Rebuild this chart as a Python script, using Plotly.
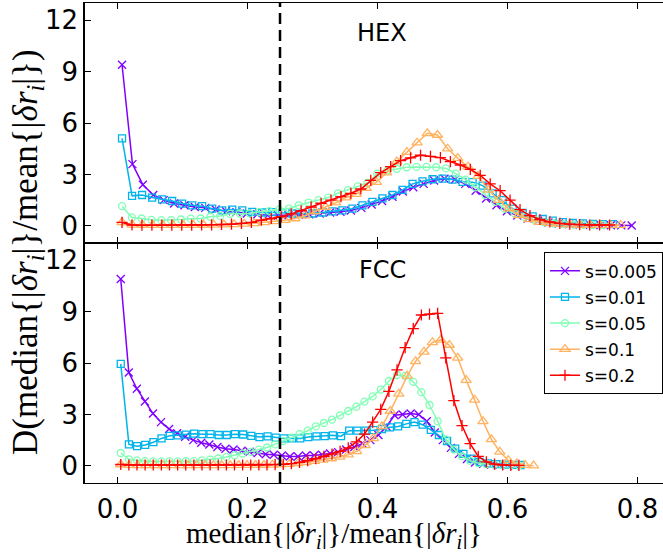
import numpy as np
import plotly.graph_objects as go

labels = ["s=0.005", "s=0.01", "s=0.05", "s=0.1", "s=0.2"]
colors = ["#8000ff", "#00b4eb", "#80ffb4", "#ffb360", "#ff0000"]
symbols = ["x-thin-open", "square-open", "circle-open", "triangle-up-open", "cross-thin-open"]
msizes = [8, 7, 7, 9, 8]

# bin-centre extents of each histogram (first, last)
hex_x_first = [0.007, 0.007, 0.007, 0.007, 0.007]
hex_x_last = [0.791, 0.762, 0.747, 0.774, 0.757]
fcc_x_first = [0.005, 0.005, 0.005, 0.005, 0.005]
fcc_x_last = [0.612, 0.620, 0.6175, 0.640, 0.6175]

# ---- HEX ----
hex_s0005 = [9.4, 3.6, 2.4, 1.8, 1.5, 1.3, 1.2, 1.1, 1.05, 0.95,
             0.85, 0.8, 0.72, 0.68, 0.62, 0.6, 0.62, 0.65, 0.68, 0.72,
             0.78, 0.82, 0.9, 1.05, 1.25, 1.45, 1.7, 2.0, 2.25, 2.45,
             2.65, 2.75, 2.7, 2.45, 2.05, 1.6, 1.2, 0.85, 0.6, 0.42,
             0.3, 0.2, 0.14, 0.1, 0.08, 0.06, 0.05, 0.04, 0.03, 0.02]
hex_s001 = [5.1, 1.75, 1.8, 1.65, 1.55, 1.45, 1.3, 1.2, 1.15, 1.0,
            0.9, 0.95, 0.9, 0.82, 0.78, 0.8, 0.75, 0.72, 0.72, 0.72,
            0.78, 0.85, 0.9, 1.0, 1.2, 1.4, 1.6, 1.8, 2.1, 2.45,
            2.6, 2.72, 2.76, 2.7, 2.57, 2.55, 2.35, 1.9, 1.5, 1.0,
            0.75, 0.55, 0.4, 0.3, 0.22, 0.17, 0.14, 0.12, 0.1, 0.1]
hex_s005 = [1.15, 0.49, 0.43, 0.35, 0.33, 0.33, 0.37, 0.42, 0.43, 0.53,
            0.58, 0.7, 0.72, 0.72, 0.82, 0.86, 0.95, 1.01, 1.2, 1.36,
            1.5, 1.65, 1.9, 2.08, 2.3, 2.5, 3.05, 3.22, 3.33, 3.42,
            3.44, 3.44, 3.42, 3.35, 3.05, 2.7, 2.25, 1.8, 1.4, 1.0,
            0.72, 0.52, 0.35, 0.2, 0.13, 0.1, 0.08, 0.06, 0.05, 0.05]
hex_s01 = [0.2, 0.06, 0.05, 0.04, 0.04, 0.04, 0.04, 0.04, 0.05, 0.06,
           0.07, 0.09, 0.12, 0.15, 0.2, 0.26, 0.33, 0.43, 0.6, 0.85,
           1.1, 1.35, 1.65, 1.85, 2.2, 2.55, 3.1, 3.75, 4.3, 4.85,
           5.4, 5.3, 4.5, 3.95, 3.45, 2.9, 2.1, 1.5, 1.0, 0.62,
           0.38, 0.22, 0.14, 0.1, 0.07, 0.05, 0.05, 0.04, 0.04, 0.04]
hex_s02 = [0.2, 0.05, 0.04, 0.04, 0.04, 0.04, 0.04, 0.04, 0.05, 0.06,
           0.08, 0.1, 0.14, 0.2, 0.33, 0.43, 0.53, 0.7, 0.88, 1.1,
           1.32, 1.5, 1.7, 1.9, 2.15, 2.65, 3.1, 3.45, 3.8, 3.97,
           4.12, 4.05, 3.98, 3.75, 3.55, 3.3, 2.95, 2.45, 2.05, 1.5,
           0.95, 0.6, 0.37, 0.23, 0.14, 0.1, 0.07, 0.05, 0.05, 0.05]

# ---- FCC ----
fcc_s0005 = [10.9, 5.45, 4.5, 3.75, 3.05, 2.55, 2.15, 1.9, 1.7, 1.5,
             1.35, 1.25, 1.1, 1.0, 0.95, 0.88, 0.82, 0.75, 0.68, 0.65,
             0.6, 0.55, 0.55, 0.6, 0.6, 0.65, 0.72, 0.8, 0.95, 1.1,
             1.3, 1.5, 1.8, 2.3, 2.95, 3.0, 3.05, 3.0, 2.6, 1.95,
             1.5, 1.05, 0.7, 0.4, 0.2, 0.12, 0.08, 0.05, 0.04, 0.03]
fcc_s001 = [5.95, 1.25, 1.15, 1.22, 1.38, 1.6, 1.75, 1.78, 1.82, 1.88,
            1.85, 1.85, 1.8, 1.8, 1.85, 1.83, 1.75, 1.68, 1.72, 1.65,
            1.6, 1.6, 1.6, 1.68, 1.72, 1.73, 1.78, 1.73, 2.05, 2.05,
            2.05, 2.08, 2.15, 2.25, 2.3, 2.45, 2.55, 2.4, 2.1, 1.8,
            1.45, 1.0, 0.7, 0.42, 0.23, 0.14, 0.1, 0.07, 0.06, 0.05]
fcc_s005 = [0.75, 0.38, 0.32, 0.28, 0.26, 0.26, 0.26, 0.26, 0.27, 0.28,
            0.32, 0.36, 0.43, 0.52, 0.62, 0.72, 0.82, 0.95, 1.07, 1.25,
            1.45, 1.65, 1.85, 2.05, 2.3, 2.5, 2.7, 2.95, 3.2, 3.45,
            3.75, 4.05, 4.45, 4.95, 5.3, 5.25, 4.9, 4.3, 3.55, 2.6,
            1.55, 0.95, 0.55, 0.3, 0.16, 0.1, 0.07, 0.05, 0.04, 0.03]
fcc_s01 = [0.08, 0.04, 0.03, 0.03, 0.03, 0.03, 0.03, 0.03, 0.03, 0.03,
           0.03, 0.03, 0.03, 0.03, 0.04, 0.04, 0.05, 0.05, 0.06, 0.08,
           0.1, 0.14, 0.2, 0.28, 0.35, 0.43, 0.52, 0.65, 0.85, 1.2,
           1.6, 2.3, 3.2, 4.2, 5.25, 6.1, 6.65, 7.2, 7.35, 7.05,
           6.3, 5.0, 3.85, 2.6, 1.55, 0.82, 0.33, 0.14, 0.04, 0.01]
fcc_s02 = [0.08, 0.05, 0.05, 0.05, 0.05, 0.05, 0.05, 0.05, 0.05, 0.05,
           0.05, 0.05, 0.05, 0.05, 0.05, 0.05, 0.05, 0.05, 0.06, 0.07,
           0.09, 0.13, 0.2, 0.3, 0.42, 0.55, 0.68, 0.85, 1.05, 1.4,
           1.85, 2.55, 3.3, 4.35, 5.6, 6.9, 8.0, 8.8, 8.85, 8.9,
           6.3, 3.8, 2.35, 1.3, 0.55, 0.23, 0.1, 0.05, 0.03, 0.03]

hex_series = [hex_s0005, hex_s001, hex_s005, hex_s01, hex_s02]
fcc_series = [fcc_s0005, fcc_s001, fcc_s005, fcc_s01, fcc_s02]

y_ticks = [0, 3, 6, 9, 12]
x_ticks = [0.0, 0.2, 0.4, 0.6, 0.8]
x_ticklabels = ["0.0", "0.2", "0.4", "0.6", "0.8"]
threshold = 0.25

fig = go.Figure()
for i in range(5):
    xh = np.linspace(hex_x_first[i], hex_x_last[i], len(hex_series[i]))
    fig.add_trace(go.Scatter(
        x=xh, y=hex_series[i], mode="lines+markers", name=labels[i],
        xaxis="x", yaxis="y", showlegend=False,
        line=dict(color=colors[i], width=1.5),
        marker=dict(symbol=symbols[i], size=msizes[i], color=colors[i],
                    line=dict(color=colors[i], width=1.3)),
    ))
for i in range(5):
    xf = np.linspace(fcc_x_first[i], fcc_x_last[i], len(fcc_series[i]))
    fig.add_trace(go.Scatter(
        x=xf, y=fcc_series[i], mode="lines+markers", name=labels[i],
        xaxis="x2", yaxis="y2", showlegend=True, legendgroup=labels[i],
        line=dict(color=colors[i], width=1.5),
        marker=dict(symbol=symbols[i], size=msizes[i], color=colors[i],
                    line=dict(color=colors[i], width=1.3)),
    ))

tickfont = dict(family="DejaVu Sans", size=26, color="black")
xcommon = dict(range=[-0.05, 0.8392], tickvals=x_ticks, ticktext=x_ticklabels,
               ticks="inside", ticklen=6, tickwidth=1.2, tickcolor="black",
               showline=True, linecolor="black", linewidth=1, mirror="ticks",
               showgrid=False, zeroline=False, tickfont=tickfont,
               ticklabelstandoff=3)
ycommon = dict(range=[-1, 13], tickvals=y_ticks, ticks="inside", ticklen=6,
               tickwidth=1.2, tickcolor="black", showline=True,
               linecolor="black", linewidth=1.5, mirror=False,
               showgrid=False, zeroline=False, tickfont=tickfont)

fig.update_layout(
    width=663, height=554,
    margin=dict(l=85, r=0, t=3, b=71),
    paper_bgcolor="white", plot_bgcolor="white",
    xaxis=dict(xcommon, anchor="y", showticklabels=False),
    yaxis=dict(ycommon, domain=[0.5, 1.0], anchor="x"),
    xaxis2=dict(xcommon, anchor="y2", matches="x", showticklabels=True),
    yaxis2=dict(ycommon, domain=[0.0, 0.5], anchor="x2"),
    legend=dict(x=1.0, xanchor="right", y=0.4806, yanchor="top",
                bgcolor="white", bordercolor="black", borderwidth=1,
                font=dict(family="DejaVu Sans", size=17, color="black"),
                itemwidth=30, tracegroupgap=1),
    showlegend=True,
)

fig.add_shape(type="line", xref="x", yref="paper", x0=threshold, x1=threshold,
              y0=0, y1=1, line=dict(color="black", width=2.5, dash="11px,6px"))

fig.add_annotation(text="HEX", xref="x", yref="y", x=0.407, y=11.25,
                   showarrow=False, font=dict(family="DejaVu Sans", size=24, color="black"))
fig.add_annotation(text="FCC", xref="x2", yref="y2", x=0.407, y=11.4,
                   showarrow=False, font=dict(family="DejaVu Sans", size=24, color="black"))

serif = "Liberation Serif"
fig.add_annotation(
    text="median{|<i>δr</i><sub><i>i</i></sub>|}/mean{|<i>δr</i><sub><i>i</i></sub>|}",
    xref="paper", yref="paper", x=(334 - 85) / 578, y=-(535 - 483) / 480,
    showarrow=False, xanchor="center", yanchor="middle",
    font=dict(family=serif, size=29, color="black"))
fig.add_annotation(
    text="D(median{|<i>δr</i><sub><i>i</i></sub>|}/mean{|<i>δr</i><sub><i>i</i></sub>|})",
    xref="paper", yref="paper", x=-(85 - 27) / 578, y=(483 - 252) / 480,
    showarrow=False, textangle=-90, xanchor="center", yanchor="middle",
    font=dict(family=serif, size=35, color="black"))

fig.write_html("out.html")
